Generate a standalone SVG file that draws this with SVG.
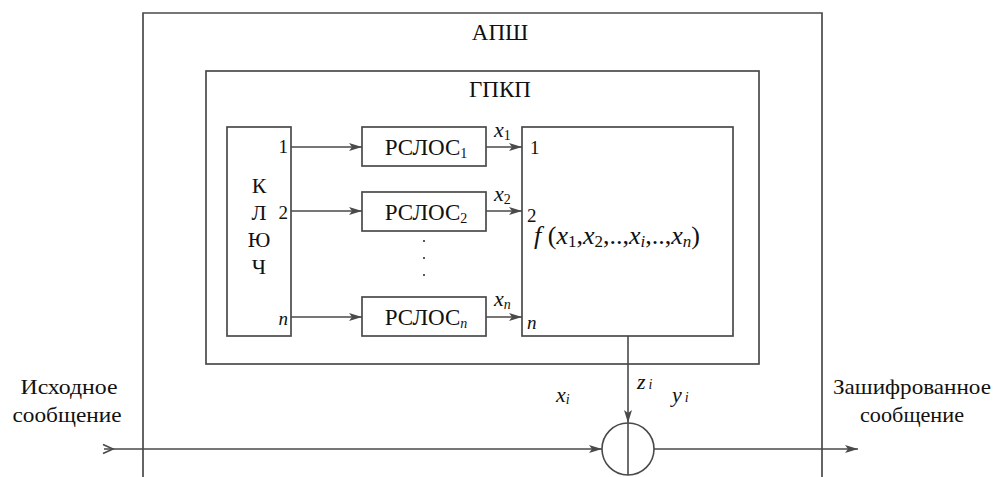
<svg xmlns="http://www.w3.org/2000/svg" width="999" height="477" viewBox="0 0 999 477">
<defs>
<style>
.box{fill:none;stroke:#4a4a4a;stroke-width:1.7}
.ln{fill:none;stroke:#4a4a4a;stroke-width:1.6}
</style>
<marker id="ah" markerUnits="userSpaceOnUse" markerWidth="14" markerHeight="10" refX="13" refY="5" orient="auto">
<path d="M0,1 L13,5 L0,9 L3,5 z" fill="#4a4a4a"/>
</marker>
</defs>
<rect width="999" height="477" fill="#fff"/>

<g id="apsh">
<path class="box" d="M143,477 V13 H822 V477"/>
<text x="500" y="40" text-anchor="middle" font-family="'Liberation Serif', serif" font-size="23" fill="#111">АПШ</text>
</g>

<g id="gpkp">
<rect class="box" x="206" y="71" width="553" height="293"/>
<text x="500" y="97" text-anchor="middle" font-family="'Liberation Serif', serif" font-size="23" fill="#111">ГПКП</text>
</g>

<g id="key">
<rect class="box" x="227" y="127" width="64" height="209"/>
<text x="259" y="193" text-anchor="middle" font-family="'Liberation Serif', serif" font-size="22" fill="#111">К</text>
<text x="259" y="220" text-anchor="middle" font-family="'Liberation Serif', serif" font-size="22" fill="#111">Л</text>
<text x="259" y="247" text-anchor="middle" font-family="'Liberation Serif', serif" font-size="22" fill="#111">Ю</text>
<text x="259" y="274" text-anchor="middle" font-family="'Liberation Serif', serif" font-size="22" fill="#111">Ч</text>
<text x="288" y="153" text-anchor="end" font-family="'Liberation Serif', serif" font-size="19" fill="#111">1</text>
<text x="288" y="219" text-anchor="end" font-family="'Liberation Serif', serif" font-size="19" fill="#111">2</text>
<text x="288" y="325" text-anchor="end" font-family="'Liberation Serif', serif" font-size="19" font-style="italic" fill="#111">n</text>
</g>

<g id="rslos1">
<rect class="box" x="362" y="127" width="124" height="39"/>
<text x="426" y="155" text-anchor="middle" font-family="'Liberation Serif', serif" font-size="23" fill="#111">РСЛОС<tspan font-size="14" dy="3">1</tspan></text>
</g>
<g id="rslos2">
<rect class="box" x="362" y="192" width="124" height="39"/>
<text x="426" y="220" text-anchor="middle" font-family="'Liberation Serif', serif" font-size="23" fill="#111">РСЛОС<tspan font-size="14" dy="3">2</tspan></text>
</g>
<g id="dots">
<circle cx="424" cy="241" r="1.1" fill="#333"/>
<circle cx="424" cy="258" r="1.1" fill="#333"/>
<circle cx="424" cy="275" r="1.1" fill="#333"/>
</g>
<g id="rslosn">
<rect class="box" x="362" y="297" width="124" height="39"/>
<text x="426" y="325" text-anchor="middle" font-family="'Liberation Serif', serif" font-size="23" fill="#111">РСЛОС<tspan font-size="14" font-style="italic" dy="3">n</tspan></text>
</g>

<g id="func">
<rect class="box" x="522" y="127" width="211" height="209"/>
<text x="530" y="154" font-family="'Liberation Serif', serif" font-size="19" fill="#111">1</text>
<text x="527" y="222" font-family="'Liberation Serif', serif" font-size="19" fill="#111">2</text>
<text x="527" y="329" font-family="'Liberation Serif', serif" font-size="19" font-style="italic" fill="#111">n</text>
<text x="534" y="244" font-family="'Liberation Serif', serif" font-size="26" fill="#111"><tspan font-style="italic">f</tspan> (<tspan font-style="italic">x</tspan><tspan font-size="17" dy="3">1</tspan><tspan dy="-3">,</tspan><tspan font-style="italic">x</tspan><tspan font-size="17" dy="3">2</tspan><tspan dy="-3">,..,</tspan><tspan font-style="italic">x</tspan><tspan font-size="17" font-style="italic" dy="3">i</tspan><tspan dy="-3">,..,</tspan><tspan font-style="italic">x</tspan><tspan font-size="17" font-style="italic" dy="3">n</tspan><tspan dy="-3">)</tspan></text>
</g>

<g id="xor">
<circle class="ln" cx="628" cy="449" r="26"/>
<line class="ln" x1="628" y1="423" x2="628" y2="475"/>
</g>

<g id="connectors">
<line class="ln" x1="291" y1="147" x2="362" y2="147" marker-end="url(#ah)"/>
<line class="ln" x1="291" y1="211" x2="362" y2="211" marker-end="url(#ah)"/>
<line class="ln" x1="291" y1="317" x2="362" y2="317" marker-end="url(#ah)"/>
<line class="ln" x1="486" y1="147" x2="522" y2="147" marker-end="url(#ah)"/>
<line class="ln" x1="486" y1="211" x2="522" y2="211" marker-end="url(#ah)"/>
<line class="ln" x1="486" y1="317" x2="522" y2="317" marker-end="url(#ah)"/>
<line class="ln" x1="628" y1="336" x2="628" y2="423" marker-end="url(#ah)"/>
<line class="ln" x1="104" y1="449" x2="602" y2="449" marker-end="url(#ah)"/>
<polyline class="ln" points="103,444.5 113,449 103,453.5"/>
<line class="ln" x1="654" y1="449" x2="858" y2="449" marker-end="url(#ah)"/>
</g>

<g id="labels">
<text x="494" y="137" font-family="'Liberation Serif', serif" font-size="22" font-style="italic" fill="#111">x<tspan font-size="14" font-style="normal" dy="3">1</tspan></text>
<text x="494" y="201" font-family="'Liberation Serif', serif" font-size="22" font-style="italic" fill="#111">x<tspan font-size="14" font-style="normal" dy="3">2</tspan></text>
<text x="494" y="306" font-family="'Liberation Serif', serif" font-size="22" font-style="italic" fill="#111">x<tspan font-size="14" dy="3">n</tspan></text>
<text x="637" y="389" font-family="'Liberation Serif', serif" font-size="22" font-style="italic" fill="#111">z<tspan font-size="14" dx="3">i</tspan></text>
<text x="556" y="402" font-family="'Liberation Serif', serif" font-size="22" font-style="italic" fill="#111">x<tspan font-size="14" dy="2">i</tspan></text>
<text x="672" y="402" font-family="'Liberation Serif', serif" font-size="22" font-style="italic" fill="#111">y<tspan font-size="14" dx="3">i</tspan></text>
<text x="69" y="394" text-anchor="middle" font-family="'Liberation Serif', serif" font-size="22" fill="#111" textLength="97" lengthAdjust="spacingAndGlyphs">Исходное</text>
<text x="67" y="422" text-anchor="middle" font-family="'Liberation Serif', serif" font-size="22" fill="#111" textLength="109" lengthAdjust="spacingAndGlyphs">сообщение</text>
<text x="912" y="394" text-anchor="middle" font-family="'Liberation Serif', serif" font-size="22" fill="#111" textLength="158" lengthAdjust="spacingAndGlyphs">Зашифрованное</text>
<text x="912" y="422" text-anchor="middle" font-family="'Liberation Serif', serif" font-size="22" fill="#111" textLength="104" lengthAdjust="spacingAndGlyphs">сообщение</text>
</g>
</svg>
